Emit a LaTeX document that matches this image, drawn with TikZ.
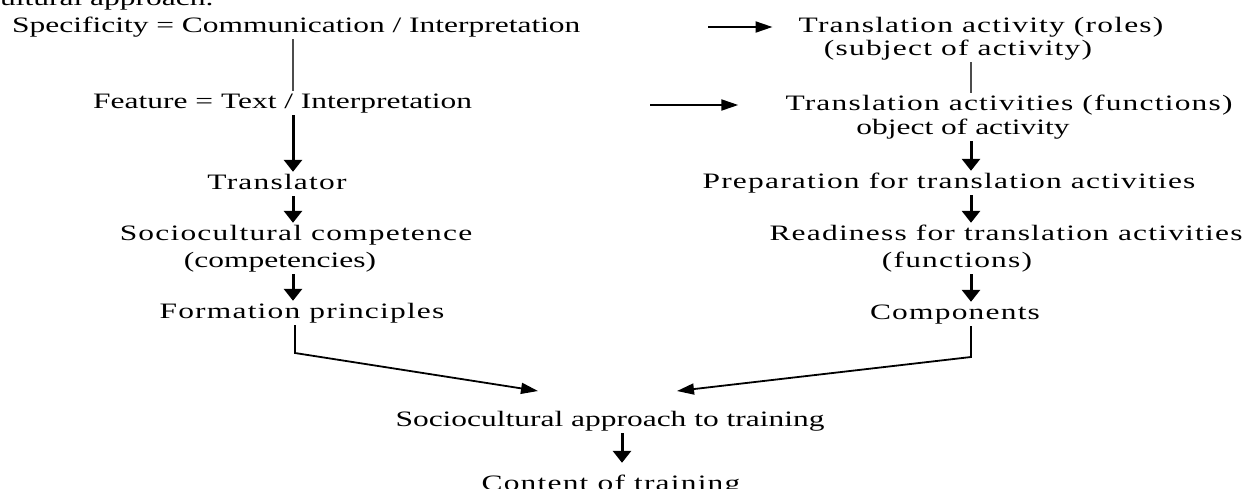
\documentclass[tikz,border=0pt]{standalone}
\usepackage{fontspec}
\setmainfont{Liberation Serif}[FakeStretch=1.43]
\newfontfamily\spaced{Liberation Serif}[FakeStretch=1.43,LetterSpace=5.5]
\usetikzlibrary{arrows.meta,calc}

\begin{document}
\begin{tikzpicture}[
    x=1pt, y=-1pt,
    lbl/.style={anchor=base, inner sep=2pt, text height=15pt, text depth=5pt,
                font=\fontsize{22}{26}\selectfont},
    wlbl/.style={lbl, font=\fontsize{22}{26}\spaced},
    link/.style={black!70, line width=1.8pt},
    varr/.style={line width=3pt, -{Triangle[length=12pt,width=18pt]}},
    harr/.style={line width=2pt, -{Triangle[length=17pt,width=11pt]}},
  ]
  \clip (0,0) rectangle (1251,488);

  % ---------------------------------------------------------------
  % left column: text -> translator -> principles
  % ---------------------------------------------------------------
  \node[lbl, anchor=base west] (head) at (-2,5) {ultural approach.};
  \node[lbl, anchor=base west] (spec) at (10,32)
    {Specificity = Communication / Interpretation};
  \node[lbl, anchor=base west] (feat) at (91,108)
    {Feature = Text / Interpretation};
  \node[wlbl] (trans) at (277,189) {Translator};
  \node[wlbl] (comp) at (296,240) {Sociocultural competence};
  \node[lbl] (comps) at (280,267) {(competencies)};
  \node[wlbl] (form) at (302,318) {Formation principles};

  % ---------------------------------------------------------------
  % right column: activity -> readiness -> components
  % ---------------------------------------------------------------
  \node[wlbl] (roles) at (981,32) {Translation activity (roles)};
  \node[wlbl] (subj) at (958,55) {(subject of activity)};
  \node[wlbl] (funcs) at (1009,110) {Translation activities (functions)};
  \node[lbl] (obj) at (963,134) {object of activity};
  \node[wlbl] (prep) at (949,188) {Preparation for translation activities};
  \node[wlbl] (ready) at (1006,240) {Readiness for translation activities};
  \node[wlbl] (fun) at (957,267) {(functions)};
  \node[wlbl] (cmpn) at (955,319) {Components};

  % bottom: approach and content
  \node[lbl] (appr) at (610,426) {Sociocultural approach to training};
  \node[wlbl] (cont) at (611,490) {Content of training};

  % column lines and free ends
  \coordinate (lcol) at (293,0);
  \coordinate (rcol) at (971,0);
  \coordinate (mcol) at (622,0);
  \coordinate (t1) at (708,0);
  \coordinate (t2) at (650,0);
  \coordinate (lbend) at (295,353);
  \coordinate (lin) at (538,391);
  \coordinate (rbend) at (971,357);
  \coordinate (rin) at (677,391);

  % connectors, left
  \draw[link] (spec.south -| lcol) -- (feat.north -| lcol);
  \draw[varr] (feat.south -| lcol) -- (trans.north -| lcol);
  \draw[varr] (trans.south -| lcol) -- (comp.north -| lcol);
  \draw[varr] (comps.south -| lcol) -- (form.north -| lcol);
  \draw[harr, line width=1.8pt] (form.south -| lbend) -- (lbend) -- (lin);

  % connectors, right
  \draw[harr, shorten >=24pt] (roles.west -| t1) -- (roles.west);
  \draw[harr, shorten >=45pt] (funcs.west -| t2) -- (funcs.west);
  \draw[link] (subj.south -| rcol) -- (funcs.north -| rcol);
  \draw[varr] (obj.south -| rcol) -- (prep.north -| rcol);
  \draw[varr] (prep.south -| rcol) -- (ready.north -| rcol);
  \draw[varr] (fun.south -| rcol) -- (cmpn.north -| rcol);
  \draw[harr, line width=1.8pt] (cmpn.south -| rbend) -- (rbend) -- (rin);

  % connector, bottom
  \draw[varr, shorten >=10pt] (appr.south -| mcol) -- (cont.north -| mcol);
\end{tikzpicture}
\end{document}
